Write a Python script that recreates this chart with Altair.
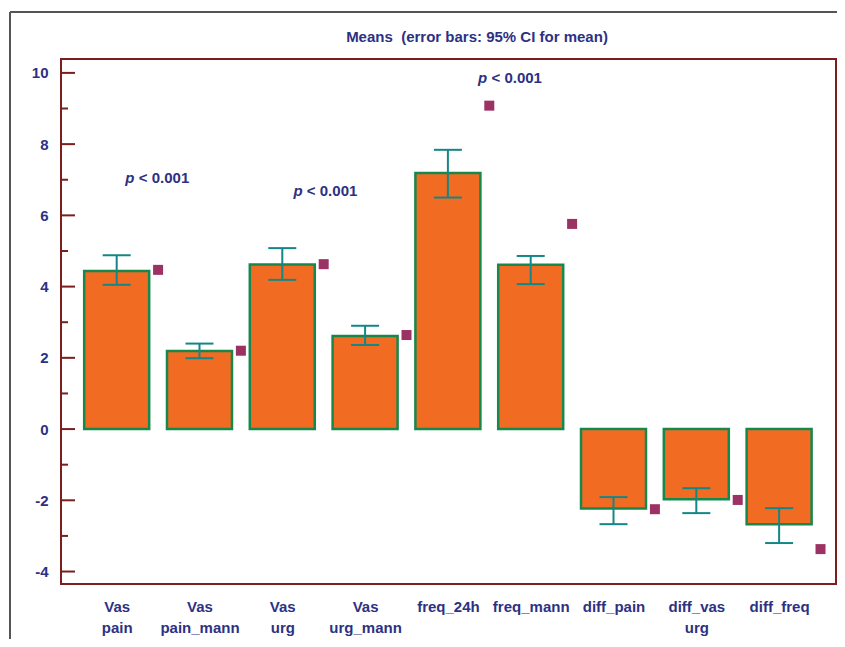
import json
import altair as alt
import pandas as pd

categories = ["Vas pain", "Vas pain_mann", "Vas urg", "Vas urg_mann", "freq_24h",
              "freq_mann", "diff_pain", "diff_vas urg", "diff_freq"]
means = [4.44, 2.19, 4.62, 2.61, 7.19, 4.61, -2.23, -1.97, -2.67]
ci_low = [4.05, 1.99, 4.19, 2.36, 6.50, 4.07, -2.67, -2.36, -3.20]
ci_high = [4.88, 2.40, 5.08, 2.90, 7.84, 4.86, -1.91, -1.66, -2.22]
markers = [4.47, 2.20, 4.63, 2.64, 9.08, 5.76, -2.25, -1.99, -3.37]

title_text = ["Means \u00a0(error bars: 95% CI for mean)"]

p_text = ["< 0.001", "< 0.001", "< 0.001"]
p_x = [0.49, 2.52, 4.75]
p_y = [7.05, 6.67, 9.86]

major_ticks = [-4, -2, 0, 2, 4, 6, 8, 10]
minor_ticks = [-3, -1, 1, 3, 5, 7, 9]

NAVY = "#2D3183"
FRAME = "#7A1E1E"
ORANGE = "#F26B22"
GREEN = "#17884C"
TEAL = "#138787"
PURPLE = "#9C3163"
FONT = "Liberation Sans"

df = pd.DataFrame({"i": list(range(len(categories))), "category": categories,
                   "mean": means, "lo": ci_low, "hi": ci_high, "marker": markers})
df_p = pd.DataFrame({"px": p_x, "py": p_y, "label": p_text})

xscale = alt.Scale(domain=[-0.6725, 8.687], nice=False, zero=False, padding=0)
yscale = alt.Scale(domain=[-4.35, 10.39], nice=False, zero=False, padding=0)

label_expr = "split(" + json.dumps(categories) + "[datum.value], ' ')"

X = alt.X("i:Q", scale=xscale, title=None,
          axis=alt.Axis(values=list(range(len(categories))), labelExpr=label_expr,
                        domain=False, ticks=False, tickSize=0, grid=False,
                        labelPadding=15, labelFontSize=15, labelFontWeight="bold",
                        labelColor=NAVY, labelFont=FONT, labelLineHeight=21,
                        labelBaseline="top", labelOverlap=False, labelFlush=False))
Y = alt.Y("mean:Q", scale=yscale, title=None,
          axis=alt.Axis(values=major_ticks, labelExpr="'' + datum.value",
                        domain=False, ticks=False, tickSize=0, grid=False,
                        labelPadding=13, labelFontSize=15, labelFontWeight="bold",
                        labelColor=NAVY, labelFont=FONT))

base = alt.Chart(df)

bars = base.mark_bar(width=65, color=ORANGE, stroke=GREEN, strokeWidth=2.5).encode(x=X, y=Y)

err = base.mark_rule(color=TEAL, strokeWidth=2).encode(
    x=alt.X("i:Q", scale=xscale), y=alt.Y("lo:Q", scale=yscale), y2="hi:Q")
cap_lo = base.mark_rule(color=TEAL, strokeWidth=2, xOffset=-14, x2Offset=14).encode(
    x=alt.X("i:Q", scale=xscale), x2="i:Q", y=alt.Y("lo:Q", scale=yscale))
cap_hi = base.mark_rule(color=TEAL, strokeWidth=2, xOffset=-14, x2Offset=14).encode(
    x=alt.X("i:Q", scale=xscale), x2="i:Q", y=alt.Y("hi:Q", scale=yscale))

squares = base.mark_square(size=100, color=PURPLE, opacity=1, xOffset=41.4).encode(
    x=alt.X("i:Q", scale=xscale), y=alt.Y("marker:Q", scale=yscale))

p_italic = alt.Chart(df_p).mark_text(
    text="p", font=FONT, fontSize=15, fontWeight="bold", fontStyle="italic",
    color=NAVY, align="left", baseline="middle", dx=-31.9).encode(
    x=alt.X("px:Q", scale=xscale), y=alt.Y("py:Q", scale=yscale))
p_rest = alt.Chart(df_p).mark_text(
    font=FONT, fontSize=15, fontWeight="bold", color=NAVY,
    align="left", baseline="middle", dx=-18.5).encode(
    x=alt.X("px:Q", scale=xscale), y=alt.Y("py:Q", scale=yscale), text="label:N")

major = alt.Chart(pd.DataFrame({"v": major_ticks})).mark_rule(
    color=FRAME, strokeWidth=2).encode(
    y=alt.Y("v:Q", scale=yscale), x=alt.value(0), x2=alt.value(14))
minor = alt.Chart(pd.DataFrame({"v": minor_ticks})).mark_rule(
    color=FRAME, strokeWidth=2).encode(
    y=alt.Y("v:Q", scale=yscale), x=alt.value(0), x2=alt.value(7))

one = alt.Data(values=[{"a": 1}])
outer_v = alt.Chart(one).mark_rule(color="#555555", strokeWidth=2).encode(
    x=alt.value(-51), y=alt.value(-47), y2=alt.value(700))
outer_h = alt.Chart(one).mark_rule(color="#555555", strokeWidth=2).encode(
    x=alt.value(-51), x2=alt.value(900), y=alt.value(-47))

title = alt.Chart(pd.DataFrame({"t": title_text})).mark_text(
    font=FONT, fontSize=15, fontWeight="bold", color=NAVY,
    align="center", baseline="middle").encode(
    x=alt.value(416), y=alt.value(-22), text="t:N")

chart = alt.layer(
    outer_v, outer_h, bars, err, cap_lo, cap_hi, squares, p_italic, p_rest,
    major, minor, title
).properties(
    width=775, height=525,
    autosize=alt.AutoSizeParams(type="none"),
    padding={"left": 53, "top": 51, "right": 1, "bottom": 55},
).configure_view(stroke=FRAME, strokeWidth=2)

chart.save("out.html", embed_options={"renderer": "svg", "actions": False})
